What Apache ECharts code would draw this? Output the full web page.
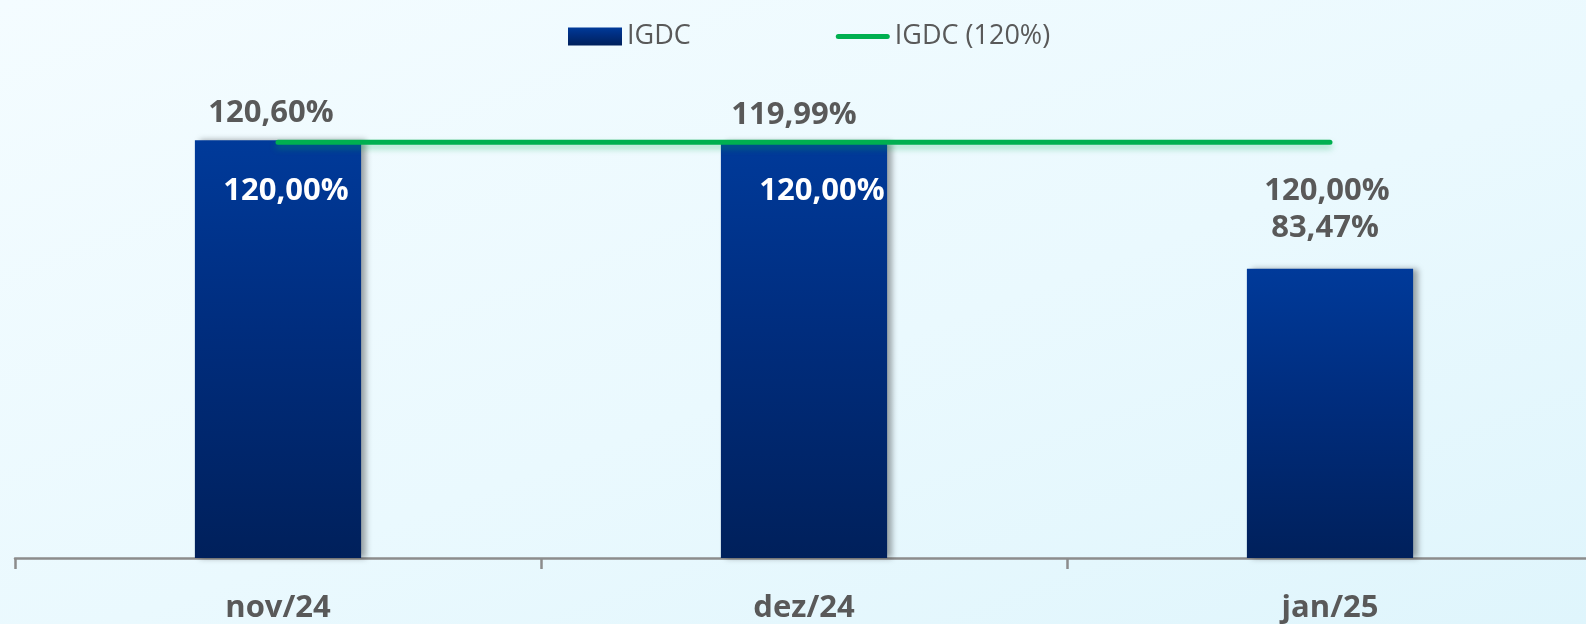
<!DOCTYPE html>
<html>
<head>
<meta charset="utf-8">
<title>IGDC</title>
<script src="https://cdn.jsdelivr.net/npm/echarts@6/dist/echarts.min.js"></script>
<style>
  html, body {
    margin: 0;
    padding: 0;
    overflow: hidden;
  }
  /* a bit wider than the window so the last category runs past the edge */
  #chart {
    width: 1600px;
    height: 624px;
    background: linear-gradient(160deg, #f4fcff 0%, #eaf9fe 55%, #dff5fc 100%);
  }
</style>
</head>
<body>
<div id="chart"></div>
<script>
const months = ['nov/24', 'dez/24', 'jan/25']
const igdc = [120.60, 119.99, 83.47]
const meta = [120, 120, 120]

const fmt = v => v.toFixed(2).replace('.', ',') + '%'

const chart = echarts.init(document.getElementById('chart'))

// per-point label tweaks (the labels in the original were nudged by hand)
const barLabelOffset = [[-7, 0], [-10, 0], [-5, -13]]
const lineLabelOffset = [[8, 0], [18, 0], [-3, 0]]
const lineLabelColor = ['#ffffff', '#ffffff', '#595959']

chart.setOption({
  animation: false,
  textStyle: { fontFamily: 'Open Sans' },
  legend: {
    top: 18,
    left: 563,
    itemWidth: 54,
    itemHeight: 18,
    itemGap: 145,
    textStyle: { fontSize: 27, color: '#595959', fontFamily: 'Open Sans' },
    data: [
      { name: 'IGDC', icon: 'rect' },
      { name: 'IGDC (120%)', icon: 'path://M2.5,0 L51.5,0 A2.5,2.5 0 0 1 51.5,5 L2.5,5 A2.5,2.5 0 0 1 2.5,0 Z' }
    ]
  },
  grid: {
    left: 15,
    width: 1578,
    top: 73,
    bottom: 63
  },
  xAxis: {
    type: 'category',
    data: months,
    axisLine: { lineStyle: { color: '#8c8c8c', width: 2.5 } },
    axisTick: { show: true, length: 11, lineStyle: { color: '#8c8c8c', width: 2.5 } },
    axisLabel: {
      margin: 35,
      fontSize: 31,
      fontWeight: 'bold',
      color: '#595959',
      fontFamily: 'Open Sans'
    }
  },
  yAxis: {
    type: 'value',
    min: 0,
    max: 140,
    show: false,
    splitLine: { show: false }
  },
  series: [
    {
      name: 'IGDC',
      type: 'bar',
      barWidth: '31.6%',
      data: igdc.map((v, i) => ({
        value: v,
        label: { offset: barLabelOffset[i] }
      })),
      itemStyle: {
        color: new echarts.graphic.LinearGradient(0, 0, 0, 1, [
          { offset: 0, color: '#003a9a' },
          { offset: 0.45, color: '#002d7e' },
          { offset: 1, color: '#00205b' }
        ]),
        shadowColor: 'rgba(0, 0, 0, 0.35)',
        shadowBlur: 6,
        shadowOffsetX: 5,
        shadowOffsetY: 0
      },
      label: {
        show: true,
        position: 'top',
        distance: 12,
        fontSize: 31,
        fontWeight: 'bold',
        color: '#595959',
        fontFamily: 'Open Sans',
        formatter: p => fmt(p.value)
      },
      z: 2
    },
    {
      name: 'IGDC (120%)',
      type: 'line',
      symbol: 'circle',
      symbolSize: 0.1,
      showSymbol: true,
      data: meta.map((v, i) => ({
        value: v,
        label: { offset: lineLabelOffset[i], color: lineLabelColor[i] }
      })),
      lineStyle: {
        color: '#00b050',
        width: 5,
        cap: 'round',
        shadowColor: 'rgba(0, 176, 80, 0.35)',
        shadowBlur: 6,
        shadowOffsetY: 4
      },
      itemStyle: { color: '#00b050' },
      label: {
        show: true,
        position: 'bottom',
        distance: 33,
        fontSize: 31,
        fontWeight: 'bold',
        fontFamily: 'Open Sans',
        formatter: p => fmt(p.value)
      },
      z: 3
    }
  ]
})
</script>
</body>
</html>
